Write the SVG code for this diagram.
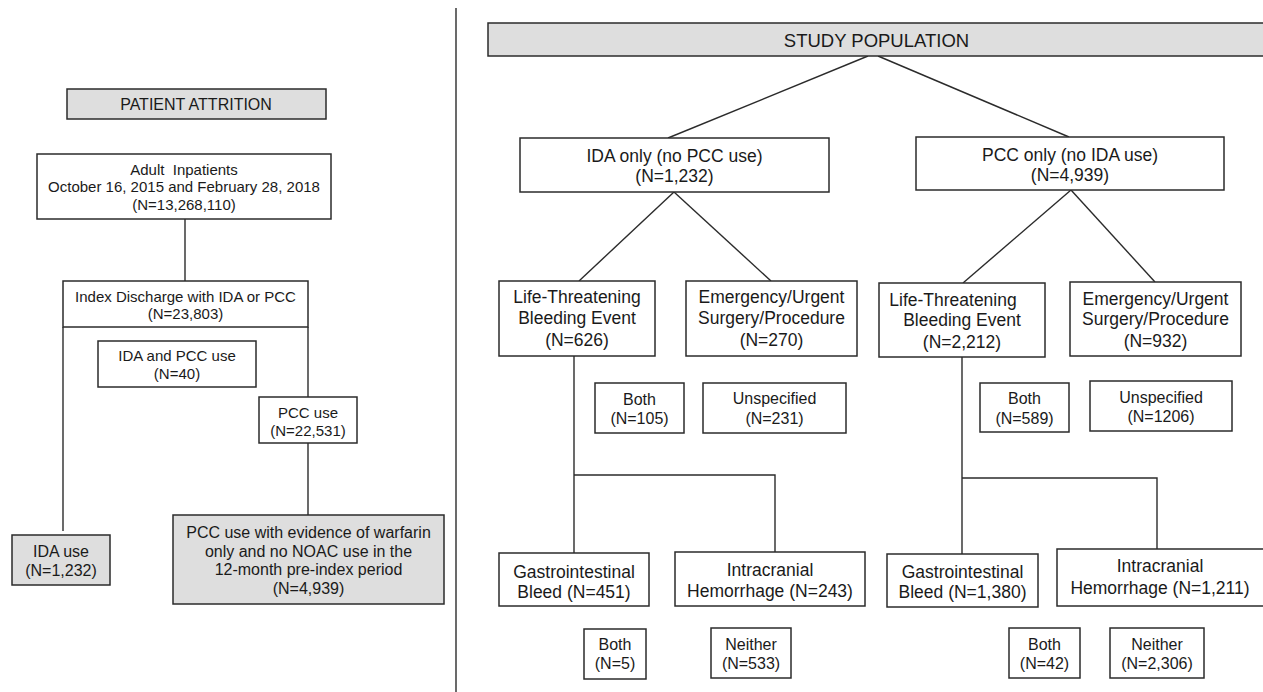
<svg xmlns="http://www.w3.org/2000/svg" width="1263" height="692" viewBox="0 0 1263 692">
<style>
  .box { fill: #ffffff; stroke: #2b2b2b; stroke-width: 1.5; }
  .gray { fill: #dedede; stroke: #2b2b2b; stroke-width: 1.5; }
  .ln { fill: none; stroke: #2b2b2b; stroke-width: 1.4; }
  text { font-family: "Liberation Sans", Arial, sans-serif; fill: #1a1a1a; text-anchor: middle; }
  .t15 { font-size: 15px; }
  .t16 { font-size: 16px; }
  .t17 { font-size: 17.5px; }
  .t18 { font-size: 18.5px; }
</style>
<rect x="0" y="0" width="1263" height="692" fill="#ffffff"/>

<g id="connectors">
  <line class="ln" x1="456" y1="8" x2="456" y2="692"/>
  <line class="ln" x1="185" y1="219" x2="185" y2="281"/>
  <line class="ln" x1="63" y1="327" x2="63" y2="531"/>
  <line class="ln" x1="308" y1="327" x2="308" y2="397"/>
  <line class="ln" x1="308" y1="443" x2="308" y2="515"/>
  <line class="ln" x1="868" y1="56" x2="668" y2="138"/>
  <line class="ln" x1="878" y1="56" x2="1069" y2="137"/>
  <line class="ln" x1="674" y1="192" x2="579" y2="281"/>
  <line class="ln" x1="674" y1="192" x2="771" y2="281"/>
  <line class="ln" x1="1071" y1="190" x2="963" y2="283"/>
  <line class="ln" x1="1071" y1="190" x2="1155" y2="282"/>
  <polyline class="ln" points="574,356 574,553"/>
  <polyline class="ln" points="574,475 775,475 775,552"/>
  <polyline class="ln" points="962,357 962,554"/>
  <polyline class="ln" points="962,478 1157,478 1157,549"/>
</g>

<g id="patient-attrition">
  <rect class="gray" x="67" y="89" width="259" height="30"/>
  <text class="t16" x="196" y="110">PATIENT ATTRITION</text>
</g>
<g id="adult-inpatients">
  <rect class="box" x="37" y="154" width="294" height="65"/>
  <text class="t15" x="184" y="174.5" xml:space="preserve">Adult  Inpatients</text>
  <text class="t15" x="184" y="192">October 16, 2015 and February 28, 2018</text>
  <text class="t15" x="184" y="209.5">(N=13,268,110)</text>
</g>
<g id="index-discharge">
  <rect class="box" x="63" y="281" width="245" height="46"/>
  <text class="t15" x="185.5" y="301.5">Index Discharge with IDA or PCC</text>
  <text class="t15" x="185.5" y="319">(N=23,803)</text>
</g>
<g id="ida-and-pcc">
  <rect class="box" x="98" y="341" width="158" height="46"/>
  <text class="t15" x="177" y="360.5">IDA and PCC use</text>
  <text class="t15" x="177" y="378.5">(N=40)</text>
</g>
<g id="pcc-use">
  <rect class="box" x="259" y="397" width="98" height="46"/>
  <text class="t15" x="308" y="417.5">PCC use</text>
  <text class="t15" x="308" y="435.5">(N=22,531)</text>
</g>
<g id="ida-use">
  <rect class="gray" x="12" y="535" width="98" height="50"/>
  <text class="t16" x="61" y="556.5">IDA use</text>
  <text class="t16" x="61" y="575.5">(N=1,232)</text>
</g>
<g id="pcc-warfarin">
  <rect class="gray" x="173" y="515" width="271" height="89"/>
  <text class="t16" x="308.5" y="537.5">PCC use with evidence of warfarin</text>
  <text class="t16" x="308.5" y="556.5">only and no NOAC use in the</text>
  <text class="t16" x="308.5" y="575">12-month pre-index period</text>
  <text class="t16" x="308.5" y="594">(N=4,939)</text>
</g>

<g id="study-population">
  <rect class="gray" x="488" y="23" width="780" height="33"/>
  <text class="t18" x="876.5" y="47">STUDY POPULATION</text>
</g>
<g id="ida-only">
  <rect class="box" x="520" y="138" width="309" height="54"/>
  <text class="t17" x="674.5" y="161.5">IDA only (no PCC use)</text>
  <text class="t17" x="674.5" y="182">(N=1,232)</text>
</g>
<g id="pcc-only">
  <rect class="box" x="916" y="137" width="308" height="53"/>
  <text class="t17" x="1070" y="160.5">PCC only (no IDA use)</text>
  <text class="t17" x="1070" y="181">(N=4,939)</text>
</g>
<g id="ida-life-threatening">
  <rect class="box" x="499" y="281" width="156" height="75"/>
  <text class="t17" x="577" y="303">Life-Threatening</text>
  <text class="t17" x="577" y="324">Bleeding Event</text>
  <text class="t17" x="577" y="345.5">(N=626)</text>
</g>
<g id="ida-emergency">
  <rect class="box" x="686" y="281" width="171" height="75"/>
  <text class="t17" x="771.5" y="303">Emergency/Urgent</text>
  <text class="t17" x="771.5" y="324">Surgery/Procedure</text>
  <text class="t17" x="771.5" y="345.5">(N=270)</text>
</g>
<g id="ida-both">
  <rect class="box" x="595" y="383" width="89" height="50"/>
  <text class="t16" x="639.5" y="405">Both</text>
  <text class="t16" x="639.5" y="423.5">(N=105)</text>
</g>
<g id="ida-unspecified">
  <rect class="box" x="703" y="383" width="143" height="50"/>
  <text class="t16" x="774.5" y="404">Unspecified</text>
  <text class="t16" x="774.5" y="423.5">(N=231)</text>
</g>
<g id="ida-gi">
  <rect class="box" x="499" y="553" width="150" height="53"/>
  <text class="t17" x="574" y="577.5">Gastrointestinal</text>
  <text class="t17" x="574" y="597.5">Bleed (N=451)</text>
</g>
<g id="ida-intracranial">
  <rect class="box" x="675" y="552" width="190" height="54"/>
  <text class="t17" x="770" y="575.5">Intracranial</text>
  <text class="t17" x="770" y="597">Hemorrhage (N=243)</text>
</g>
<g id="ida-gi-both">
  <rect class="box" x="584" y="629" width="62" height="50"/>
  <text class="t16" x="615" y="649.5">Both</text>
  <text class="t16" x="615" y="669">(N=5)</text>
</g>
<g id="ida-neither">
  <rect class="box" x="711" y="628" width="80" height="50"/>
  <text class="t16" x="751" y="649.5">Neither</text>
  <text class="t16" x="751" y="668.5">(N=533)</text>
</g>

<g id="pcc-life-threatening">
  <rect class="box" x="879" y="283" width="166" height="74"/>
  <text class="t17" x="953" y="305.5">Life-Threatening</text>
  <text class="t17" x="962" y="326">Bleeding Event</text>
  <text class="t17" x="962" y="348">(N=2,212)</text>
</g>
<g id="pcc-emergency">
  <rect class="box" x="1070" y="282" width="171" height="74"/>
  <text class="t17" x="1155.5" y="305">Emergency/Urgent</text>
  <text class="t17" x="1155.5" y="325">Surgery/Procedure</text>
  <text class="t17" x="1155.5" y="347">(N=932)</text>
</g>
<g id="pcc-both">
  <rect class="box" x="980" y="383" width="89" height="49"/>
  <text class="t16" x="1024.5" y="404">Both</text>
  <text class="t16" x="1024.5" y="423.5">(N=589)</text>
</g>
<g id="pcc-unspecified">
  <rect class="box" x="1090" y="381" width="142" height="50"/>
  <text class="t16" x="1161" y="402.5">Unspecified</text>
  <text class="t16" x="1161" y="421.5">(N=1206)</text>
</g>
<g id="pcc-gi">
  <rect class="box" x="887" y="554" width="151" height="53"/>
  <text class="t17" x="962.5" y="578">Gastrointestinal</text>
  <text class="t17" x="962.5" y="597.5">Bleed (N=1,380)</text>
</g>
<g id="pcc-intracranial">
  <rect class="box" x="1057" y="549" width="210" height="57"/>
  <text class="t17" x="1160" y="572">Intracranial</text>
  <text class="t17" x="1160" y="594">Hemorrhage (N=1,211)</text>
</g>
<g id="pcc-gi-both">
  <rect class="box" x="1009" y="628" width="71" height="50"/>
  <text class="t16" x="1044.5" y="649.5">Both</text>
  <text class="t16" x="1044.5" y="669">(N=42)</text>
</g>
<g id="pcc-neither">
  <rect class="box" x="1110" y="628" width="94" height="50"/>
  <text class="t16" x="1157" y="649.5">Neither</text>
  <text class="t16" x="1157" y="669">(N=2,306)</text>
</g>
</svg>
